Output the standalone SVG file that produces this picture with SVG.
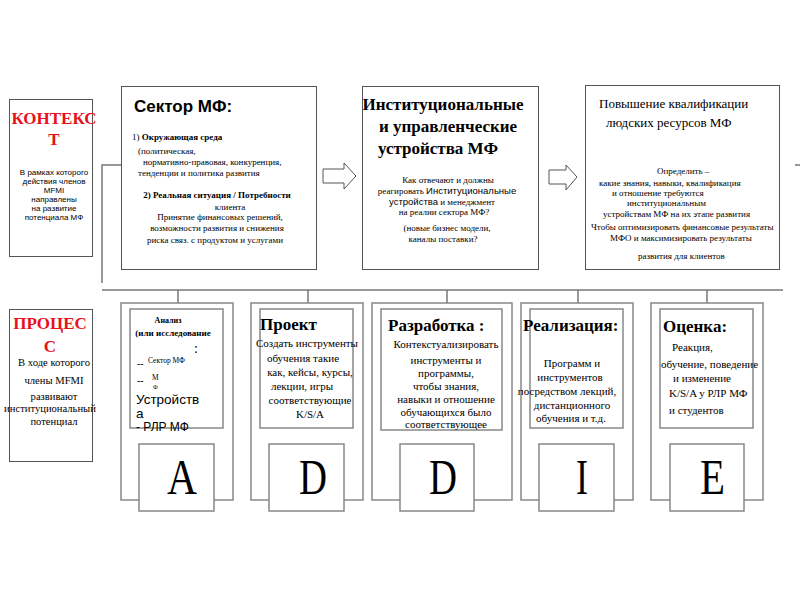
<svg xmlns="http://www.w3.org/2000/svg" width="800" height="600" viewBox="0 0 800 600">
<style>
rect{fill:#fff}
.bx{stroke:#555;stroke-width:1}
.cb{stroke:#888;stroke-width:1.5}
.ln{stroke:#777;stroke-width:1.5;fill:none}
.arr{fill:#fff;stroke:#555;stroke-width:1}
text{fill:#000}
.ser{font-family:"Liberation Serif","Times New Roman",serif}
.san{font-family:"Liberation Sans",Arial,sans-serif}
.red{fill:#e8101a;font-family:"Liberation Serif",serif;font-weight:bold;font-size:17px}
.s9{font-family:"Liberation Serif",serif;font-size:9px}
.s11{font-family:"Liberation Serif",serif;font-size:11px}
.hd{font-family:"Liberation Serif",serif;font-size:17px;font-weight:bold}
.lt{font-family:"Liberation Serif",serif;font-size:50px}
.c{text-anchor:middle}
.b{font-weight:bold}
</style>
<g id="connectors">
<polyline class="ln" points="121,165 102,165 102,283"/>
<line class="ln" x1="102" y1="290" x2="783" y2="290"/>
<line class="ln" x1="795" y1="165" x2="800" y2="165"/>
<line class="ln" x1="178" y1="290" x2="178" y2="303"/>
<line class="ln" x1="308" y1="290" x2="308" y2="303"/>
<line class="ln" x1="447" y1="290" x2="447" y2="303"/>
<line class="ln" x1="578" y1="290" x2="578" y2="303"/>
<line class="ln" x1="707" y1="290" x2="707" y2="303"/>
<polygon class="arr" points="323,169 344,169 344,163 356,176 344,189 344,183 323,183"/>
<polygon class="arr" points="549,170 566,170 566,165 577,177 566,190 566,184 549,184"/>
</g>
<g id="context">
<rect class="bx" x="9.5" y="99.5" width="83" height="157"/>
<text class="red c" x="54" y="124">КОНТЕКС</text>
<text class="red c" x="54" y="145">Т</text>
<g class="san c" font-size="8">
<text x="54" y="175">В рамках которого</text>
<text x="54" y="184">действия членов</text>
<text x="54" y="193">MFMI</text>
<text x="54" y="202">направлены</text>
<text x="54" y="211">на развитие</text>
<text x="54" y="220">потенциала МФ</text>
</g>
</g>
<g id="sector">
<rect class="bx" x="121.5" y="86.5" width="195" height="183"/>
<text class="san b" x="134" y="112" font-size="17">Сектор МФ:</text>
<g class="s9">
<text x="132" y="140">1) <tspan font-weight="bold">Окружающая среда</tspan></text>
<text x="138" y="154">(политическая,</text>
<text x="143" y="165">нормативно-правовая, конкуренция,</text>
<text x="138" y="176">тенденции и политика развития</text>
<text class="c b" x="217" y="198">2) Реальная ситуация / Потребности</text>
<text class="c" x="230" y="210">клиента</text>
<text class="c" x="220" y="220">Принятие финансовых решений,</text>
<text class="c" x="217" y="231">возможности развития  и снижения</text>
<text class="c" x="215" y="243">риска связ. с продуктом и услугами</text>
</g>
</g>
<g id="institutions">
<rect class="bx" x="362.5" y="86.5" width="176" height="183"/>
<text class="hd c" x="443" y="110">Институциональные</text>
<text class="hd c" x="448" y="132">и управленческие</text>
<text class="hd c" x="438" y="154">устройства МФ</text>
<g class="s9 c">
<text x="448" y="183">Как отвечают и должны</text>
<text x="447" y="194">реагировать <tspan class="san" font-size="9.5">Институциональные</tspan></text>
<text x="442" y="205"><tspan class="san" font-size="9.5">устройства</tspan>  и менеджмент</text>
<text x="444" y="215">на реалии сектора МФ?</text>
<text x="447" y="231">(новые бизнес модели,</text>
<text x="443" y="242">каналы поставки?</text>
</g>
</g>
<g id="hr">
<rect class="bx" x="585.5" y="85.5" width="194" height="184"/>
<text class="ser" x="599" y="108" font-size="13">Повышение квалификации</text>
<text class="ser" x="606" y="127" font-size="13">людских ресурсов МФ</text>
<g class="s9">
<text x="657" y="174">Определить –</text>
<text x="599" y="186">какие знания, навыки, квалификация</text>
<text x="612" y="196">и отношение требуются</text>
<text x="627" y="206">институциональным</text>
<text x="603" y="217">устройствам МФ на их этапе развития</text>
<text x="591" y="230">Чтобы оптимизировать финансовые результаты</text>
<text x="610" y="241">МФО и максимизировать результаты</text>
<text x="638" y="259">развития для клиентов</text>
</g>
</g>
<g id="process">
<rect class="bx" x="9.5" y="309.5" width="83" height="152"/>
<text class="red c" x="50" y="329">ПРОЦЕС</text>
<text class="red c" x="50" y="352">С</text>
<g class="ser c" font-size="10.6">
<text x="54" y="366">В ходе которого</text>
<text x="54" y="384">члены MFMI</text>
<text x="54" y="400">развивают</text>
<text x="50" y="412">институциональный</text>
<text x="54" y="425">потенциал</text>
</g>
</g>
<g id="col-a">
<rect class="cb" x="121" y="303" width="112" height="197"/>
<rect class="cb" x="130" y="309" width="93" height="119"/>
<text class="ser b c" x="168" y="323" font-size="8">Анализ</text>
<text class="ser b c" x="173" y="336" font-size="9">(или исследование</text>
<text class="ser" x="194" y="353" font-size="14">:</text>
<text class="san" x="137" y="367" font-size="10">--</text>
<text class="ser" x="148" y="363" font-size="7.5">Сектор МФ</text>
<text class="san" x="137" y="384" font-size="10">--</text>
<text class="ser" x="152" y="380" font-size="7.5">М</text>
<text class="ser" x="153" y="389" font-size="6">Ф</text>
<text class="san" x="136" y="404" font-size="13.5">Устройств</text>
<text class="san" x="136" y="418" font-size="13.5">а</text>
<text class="san" x="136" y="431" font-size="12">- РЛР МФ</text>
<rect class="cb" x="139" y="444" width="75" height="67"/>
<text class="lt" x="167" y="494" textLength="30" lengthAdjust="spacingAndGlyphs">A</text>
</g>
<g id="col-d1">
<rect class="cb" x="251" y="303" width="112" height="197"/>
<rect class="cb" x="260" y="309" width="93" height="119"/>
<text class="hd" x="260" y="330">Проект</text>
<g class="s11 c">
<text x="307" y="347">Создать инструменты</text>
<text x="303" y="362">обучения такие</text>
<text x="310" y="376">как, кейсы, курсы,</text>
<text x="302" y="390">лекции, игры</text>
<text x="310" y="404">соответствующие</text>
<text x="310" y="418">K/S/A</text>
</g>
<rect class="cb" x="269" y="444" width="75" height="67"/>
<text class="lt" x="299" y="494" textLength="28" lengthAdjust="spacingAndGlyphs">D</text>
</g>
<g id="col-d2">
<rect class="cb" x="372" y="303" width="140" height="197"/>
<rect class="cb" x="381" y="309" width="121" height="121"/>
<text class="hd" x="388" y="331">Разработка :</text>
<g class="s11 c">
<text x="446" y="348">Контекстуализировать</text>
<text x="446" y="364">инструменты и</text>
<text x="446" y="377">программы,</text>
<text x="446" y="390">чтобы знания,</text>
<text x="446" y="403">навыки и отношение</text>
<text x="446" y="416">обучающихся было</text>
<text x="446" y="428">соответствующее</text>
</g>
<rect class="cb" x="400" y="444" width="74" height="67"/>
<text class="lt" x="429" y="494" textLength="28" lengthAdjust="spacingAndGlyphs">D</text>
</g>
<g id="col-i">
<rect class="cb" x="521" y="303" width="112" height="197"/>
<rect class="cb" x="530" y="309" width="93" height="119"/>
<text class="hd" x="523" y="331">Реализация:</text>
<g class="s11 c">
<text x="572" y="367">Программ и</text>
<text x="570" y="381">инструментов</text>
<text x="567" y="395">посредством лекций,</text>
<text x="572" y="409">дистанционного</text>
<text x="571" y="422">обучения и т.д.</text>
</g>
<rect class="cb" x="539" y="444" width="75" height="67"/>
<text class="lt" x="576" y="494" textLength="12" lengthAdjust="spacingAndGlyphs">I</text>
</g>
<g id="col-e">
<rect class="cb" x="651" y="303" width="112" height="197"/>
<rect class="cb" x="660" y="309" width="93" height="119"/>
<text class="hd" x="663" y="332">Оценка:</text>
<g class="s11">
<text x="672" y="351">Реакция,</text>
<text x="661" y="368">обучение, поведение</text>
<text x="673" y="382">и изменение</text>
<text x="669" y="397">K/S/A у РЛР МФ</text>
<text x="669" y="414">и студентов</text>
</g>
<rect class="cb" x="670" y="444" width="74" height="67"/>
<text class="lt" x="700" y="494" textLength="25" lengthAdjust="spacingAndGlyphs">E</text>
</g>
</svg>
